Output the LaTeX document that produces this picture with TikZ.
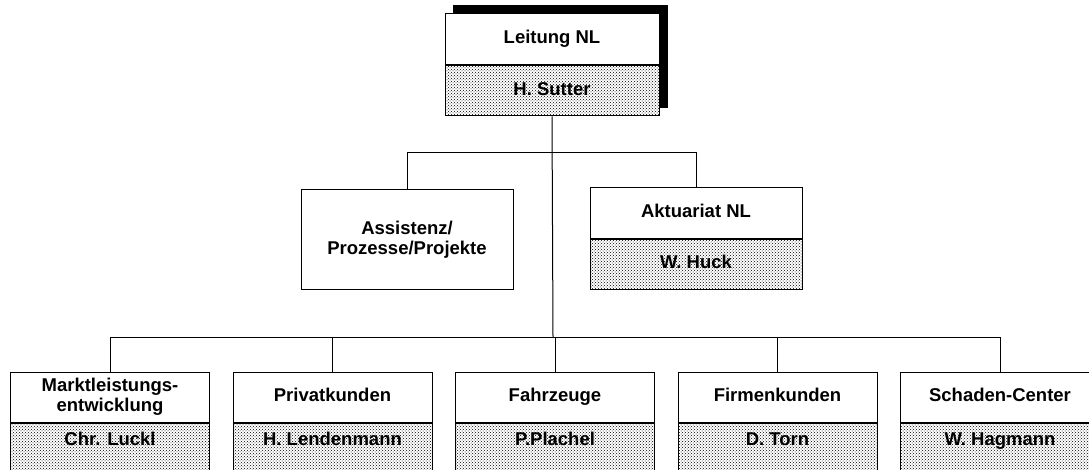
\documentclass[tikz,border=0pt]{standalone}
\usepackage{fontspec}
\setmainfont{Liberation Sans}
\usetikzlibrary{positioning, patterns, backgrounds}

\begin{document}
\begin{tikzpicture}[x=1pt,y=-1pt,line width=1pt,node distance=22.5pt,
      every node/.style={font=\bfseries\fontsize{18.5}{19.5}\selectfont,inner sep=0pt,align=center},
      unit/.style={draw,fill=white,minimum width=199pt,minimum height=50pt,text height=13pt,text depth=4pt},
      twoline/.style={text height={},text depth={}},
      person/.style={unit,fill=none,preaction={fill=white},pattern=crosshatch dots},
      lowperson/.style={person,text depth=18pt}
      ]
      \path[use as bounding box] (0,0) rectangle (1089,470);
      \clip (0,0) rectangle (1089,470);
      % head
      \node[unit,minimum width=214pt,minimum height=51pt] (leit) at (552,39.5) {Leitung NL};
      \node[person,minimum width=214pt,below=0pt of leit] (leit_p) {H. Sutter};
      \begin{scope}[on background layer]
        \fill ([shift={(8,-8)}]leit.north west) rectangle ([shift={(8,-8)}]leit_p.south east);
      \end{scope}
      % staff
      \node[unit,twoline,minimum width=212pt,minimum height=99pt] (assist) at (407,239.5) {Assistenz/\\Prozesse/Projekte};
      \node[unit,minimum width=212pt,minimum height=51pt] (aktuar) at (696,213.5) {Aktuariat NL};
      \node[person,minimum width=212pt,minimum height=49pt,below=0pt of aktuar] (aktuar_p) {W. Huck};
      % departments
      \node[unit,twoline] (markt) at (110,397) {Marktleistungs-\\entwicklung};
      \node[unit,right=of markt] (privat) {Privatkunden};
      \node[unit,right=of privat] (fahrz) {Fahrzeuge};
      \node[unit,right=of fahrz] (firmen) {Firmenkunden};
      \node[unit,right=of firmen] (schaden) {Schaden-Center};
      \node[lowperson,below=0pt of markt] (markt_p) {Chr. Luckl};
      \node[lowperson,below=0pt of privat] (privat_p) {H. Lendenmann};
      \node[lowperson,below=0pt of fahrz] (fahrz_p) {P.Plachel};
      \node[lowperson,below=0pt of firmen] (firmen_p) {D. Torn};
      \node[lowperson,below=0pt of schaden] (schaden_p) {W. Hagmann};
      % lines
      \coordinate (top_bus) at (553,153);
      \coordinate (low_bus) at (553,337);
      \draw (leit_p.south) -- (low_bus);
      \draw (assist.north) -- (assist.north |- top_bus) -- (aktuar.north |- top_bus) -- (aktuar.north);
      \draw (markt.north) -- (markt.north |- low_bus) -- (schaden.north |- low_bus) -- (schaden.north);
      \foreach \n in {privat,fahrz,firmen}
        \draw (\n.north) -- (\n.north |- low_bus);
\end{tikzpicture}
\end{document}
